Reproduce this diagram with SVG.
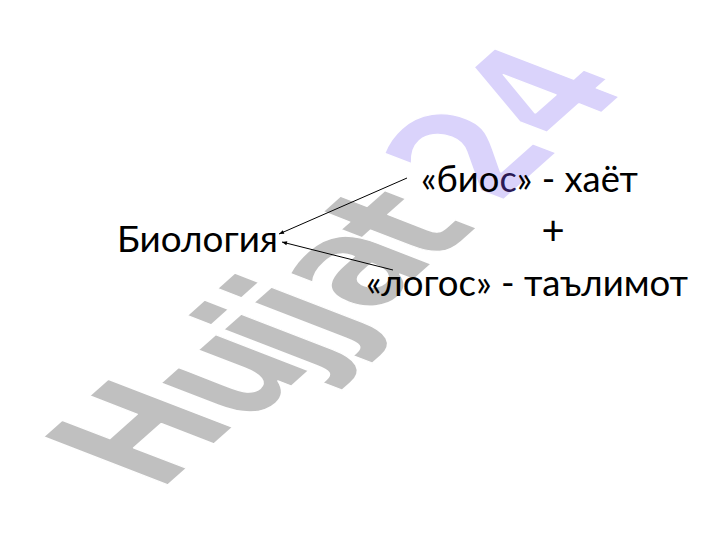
<svg xmlns="http://www.w3.org/2000/svg" width="720" height="540" viewBox="0 0 720 540">
  <style>
    .lbl { font-family: "Lato", "Open Sans", "DejaVu Sans", sans-serif; font-size: 37px; fill: #000; }
    .wm { font-family: "DejaVu Sans", "Verdana", sans-serif; font-weight: bold; font-size: 100px; stroke: #fff; stroke-width: 1; stroke-linejoin: round; }
    .conn { stroke: #000; stroke-width: 1; fill: none; marker-end: url(#arr); }
  </style>
  <defs>
    <marker id="arr" viewBox="0 0 10 10" refX="10" refY="5" markerWidth="6" markerHeight="5" orient="auto" markerUnits="userSpaceOnUse">
      <path d="M0,1 L10,5 L0,9 Z" fill="#000"/>
    </marker>
  </defs>
  <rect width="720" height="540" fill="#fff"/>
  <g id="watermark">
    <text class="wm" transform="matrix(0.99,-0.88,1.71,0.66,159,493)" x="0 80 141 171.5 205 263 330 400" y="0 5 6 6 6 8 6 6"><tspan fill="#c0c0c0">Hujjat</tspan><tspan fill="#dad3fb">24</tspan></text>
  </g>
  <g id="connectors">
    <line class="conn" x1="407" y1="178" x2="279" y2="234"/>
    <line class="conn" x1="393" y1="270" x2="282" y2="242"/>
  </g>
  <g id="biologiya">
    <text class="lbl" x="117" y="252" textLength="161" lengthAdjust="spacingAndGlyphs">Биология</text>
  </g>
  <g id="bios">
    <text class="lbl" x="421" y="192" textLength="217" lengthAdjust="spacingAndGlyphs">«био<tspan fill="#2b1a55">с</tspan>» - хаёт</text>
  </g>
  <g id="plus">
    <text class="lbl" x="553" y="245" text-anchor="middle" style="font-size:40px">+</text>
  </g>
  <g id="logos">
    <text class="lbl" x="366" y="296" textLength="322" lengthAdjust="spacingAndGlyphs">«логос» - таълимот</text>
  </g>
</svg>
